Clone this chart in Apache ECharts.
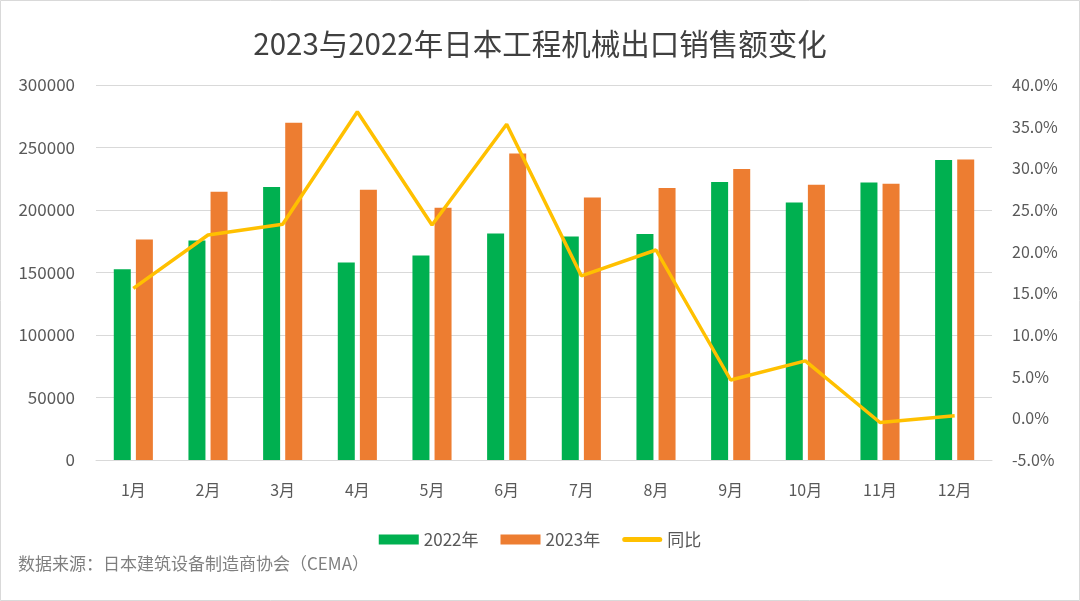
<!DOCTYPE html>
<html>
<head>
<meta charset="utf-8">
<script src="https://cdn.jsdelivr.net/npm/echarts@6/dist/echarts.min.js"></script>
<style>
html,body{margin:0;padding:0;background:#fff;}
#c{width:1080px;height:601px;}
</style>
</head>
<body>
<div id="c"></div>
<script>
const months = ['1月','2月','3月','4月','5月','6月','7月','8月','9月','10月','11月','12月'];
const sales2022 = [152600, 175700, 218400, 158100, 163700, 181300, 178900, 180800, 222400, 206100, 222100, 240000];
const sales2023 = [176500, 214700, 269900, 216300, 201900, 245300, 210100, 217600, 232800, 220300, 221100, 240500];
const yoyPct = [15.6, 22.0, 23.3, 36.8, 23.2, 35.3, 17.1, 20.2, 4.6, 6.9, -0.5, 0.3];

const FONT = '"Noto Sans CJK SC","Noto Sans",sans-serif';
const chart = echarts.init(document.getElementById('c'));
chart.setOption({
  backgroundColor: '#ffffff',
  textStyle: { fontFamily: FONT },
  title: {
    text: '2023与2022年日本工程机械出口销售额变化',
    left: 'center',
    top: 24,
    textStyle: { fontFamily: FONT, fontSize: 29.5, fontWeight: 'normal', color: '#404040' }
  },
  legend: {
    left: 'center',
    top: 526,
    itemWidth: 40,
    itemHeight: 10,
    itemGap: 22,
    symbolKeepAspect: true,
    textStyle: { fontFamily: FONT, fontSize: 17, color: '#595959' },
    data: [
      { name: '2022年', icon: 'rect' },
      { name: '2023年', icon: 'rect' },
      { name: '同比', icon: 'path://M2.5,0 L37.5,0 A2.5,2.5 0 0 1 37.5,5 L2.5,5 A2.5,2.5 0 0 1 2.5,0 Z',
        itemStyle: { color: '#FFC000' } }
    ]
  },
  graphic: [
    { type: 'rect', shape: { x: 0.5, y: 0.5, width: 1079, height: 600 }, style: { fill: 'none', stroke: '#d9d9d9', lineWidth: 1 }, silent: true },
    { type: 'text', left: 18, top: 555, style: { text: '数据来源：日本建筑设备制造商协会（CEMA）', fontFamily: FONT, fontSize: 17, fill: '#7f7f7f' } }
  ],
  grid: { left: 96, right: 88, top: 85, bottom: 141 },
  xAxis: {
    type: 'category',
    data: months,
    axisLine: { lineStyle: { color: '#d9d9d9', width: 1 } },
    axisTick: { show: false },
    axisLabel: { fontFamily: FONT, fontSize: 16, color: '#595959', margin: 22 }
  },
  yAxis: [
    {
      type: 'value', min: 0, max: 300000, interval: 50000,
      axisLine: { show: false }, axisTick: { show: false },
      splitLine: { lineStyle: { color: '#d9d9d9', width: 1 } },
      axisLabel: { fontFamily: FONT, fontSize: 17, color: '#595959', margin: 21,
        formatter: v => String(v) }
    },
    {
      type: 'value', min: -5, max: 40, interval: 5,
      axisLine: { show: false }, axisTick: { show: false },
      splitLine: { show: false },
      axisLabel: { fontFamily: FONT, fontSize: 16, color: '#595959', margin: 20,
        formatter: v => v.toFixed(1) + '%' }
    }
  ],
  series: [
    { name: '2022年', type: 'bar', data: sales2022, barWidth: 17, barGap: '30%',
      itemStyle: { color: '#00B050' } },
    { name: '2023年', type: 'bar', data: sales2023, barWidth: 17, barGap: '30%',
      itemStyle: { color: '#ED7D31' } },
    { name: '同比', type: 'line', yAxisIndex: 1, data: yoyPct, symbol: 'none',
      lineStyle: { color: '#FFC000', width: 3.5 }, itemStyle: { color: '#FFC000' }, z: 5 }
  ]
});
</script>
</body>
</html>
